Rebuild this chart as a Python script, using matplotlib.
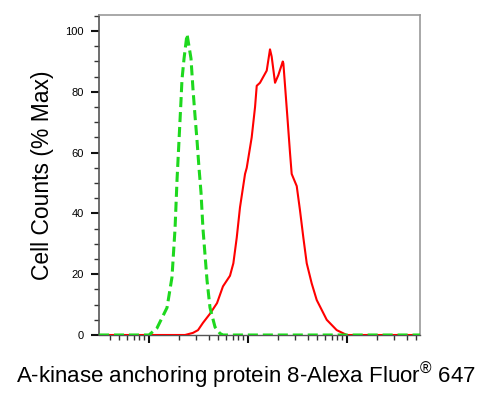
import numpy as np
import matplotlib
matplotlib.use("Agg")
import matplotlib.pyplot as plt
from matplotlib.ticker import LogLocator, MultipleLocator, NullFormatter

plt.rcParams['font.family'] = ['Liberation Sans', 'DejaVu Sans']
plt.rcParams['mathtext.fontset'] = 'custom'
plt.rcParams['mathtext.rm'] = 'Liberation Sans'
plt.rcParams['mathtext.it'] = 'Liberation Sans:italic'
plt.rcParams['mathtext.bf'] = 'Liberation Sans:bold'

# log10 of fluorescence intensity and % of max counts
green_log = [1.495, 2.0, 2.081, 2.182, 2.232, 2.263, 2.283, 2.303, 2.323, 2.333,
             2.354, 2.384, 2.424, 2.444, 2.465, 2.485, 2.505, 2.525, 2.545, 2.586,
             2.616, 2.667, 2.717, 2.747, 4.737]
green_pct = [0, 0, 2.3, 9, 19, 35, 51, 64, 77, 84,
             91, 99, 91, 81, 72, 64, 55, 47, 35, 18,
             9, 2.6, 0.5, 0, 0]

red_log = [1.495, 2.364, 2.444, 2.495, 2.545, 2.616, 2.687, 2.747, 2.818, 2.852,
           2.886, 2.919, 2.970, 2.987, 3.037, 3.071, 3.088, 3.121, 3.155, 3.189,
           3.222, 3.239, 3.273, 3.306, 3.351, 3.357, 3.397, 3.424, 3.441, 3.492,
           3.525, 3.559, 3.593, 3.643, 3.694, 3.795, 3.896, 3.997, 4.737]
red_pct = [0, 0, 0.7, 1.6, 4, 7, 10.5, 16, 19.5, 23.6,
           32, 42, 53, 55, 65, 75, 82, 83, 85, 87,
           94, 91.6, 83, 85.5, 90, 89.4, 72, 60, 53, 49,
           41, 32, 23.6, 17, 11.5, 5, 1.6, 0, 0]

fig = plt.figure(figsize=(4.91, 3.96), dpi=100)
ax = fig.add_axes([99 / 491, 1 - 335 / 396, 321 / 491, 320 / 396])

ax.plot(10 ** np.array(red_log), red_pct, color='#ff0000', lw=1.5, zorder=3)
ax.plot(10 ** np.array(green_log), green_pct, color='#1ed81e', lw=2.2,
        dashes=(3.3, 1.6), zorder=4)

ax.set_xscale('log')
ax.set_xlim(10 ** 1.495, 10 ** 4.737)
ax.set_ylim(0, 105.3)

ax.xaxis.set_major_locator(LogLocator(base=10, numticks=10))
ax.xaxis.set_minor_locator(LogLocator(base=10, subs=np.arange(2, 10), numticks=20))
ax.xaxis.set_major_formatter(NullFormatter())
ax.xaxis.set_minor_formatter(NullFormatter())
ax.yaxis.set_major_locator(MultipleLocator(20))
ax.yaxis.set_minor_locator(MultipleLocator(5))

ax.tick_params(axis='both', which='major', length=6, width=1.5, color='#111111', direction='out')
ax.tick_params(axis='both', which='minor', length=3.5, width=1, color='#333333', direction='out')
ax.tick_params(axis='y', labelsize=8, pad=5)

for s in ['top', 'right']:
    ax.spines[s].set_color('#999999')
    ax.spines[s].set_linewidth(1.2)
ax.spines['left'].set_color('#555555')
ax.spines['left'].set_linewidth(1.2)
ax.spines['bottom'].set_color('#555555')
ax.spines['bottom'].set_linewidth(1.0)

ax.set_ylabel('Cell Counts (% Max)', fontsize=16.5, labelpad=8)
ax.set_xlabel('A-kinase anchoring protein 8-Alexa Fluor$^{\u00ae}$ 647', fontsize=16)
# centre the x label on the figure, like the reference
ax.xaxis.set_label_coords(0.458, -0.08)

fig.savefig('out.png', dpi=100)
